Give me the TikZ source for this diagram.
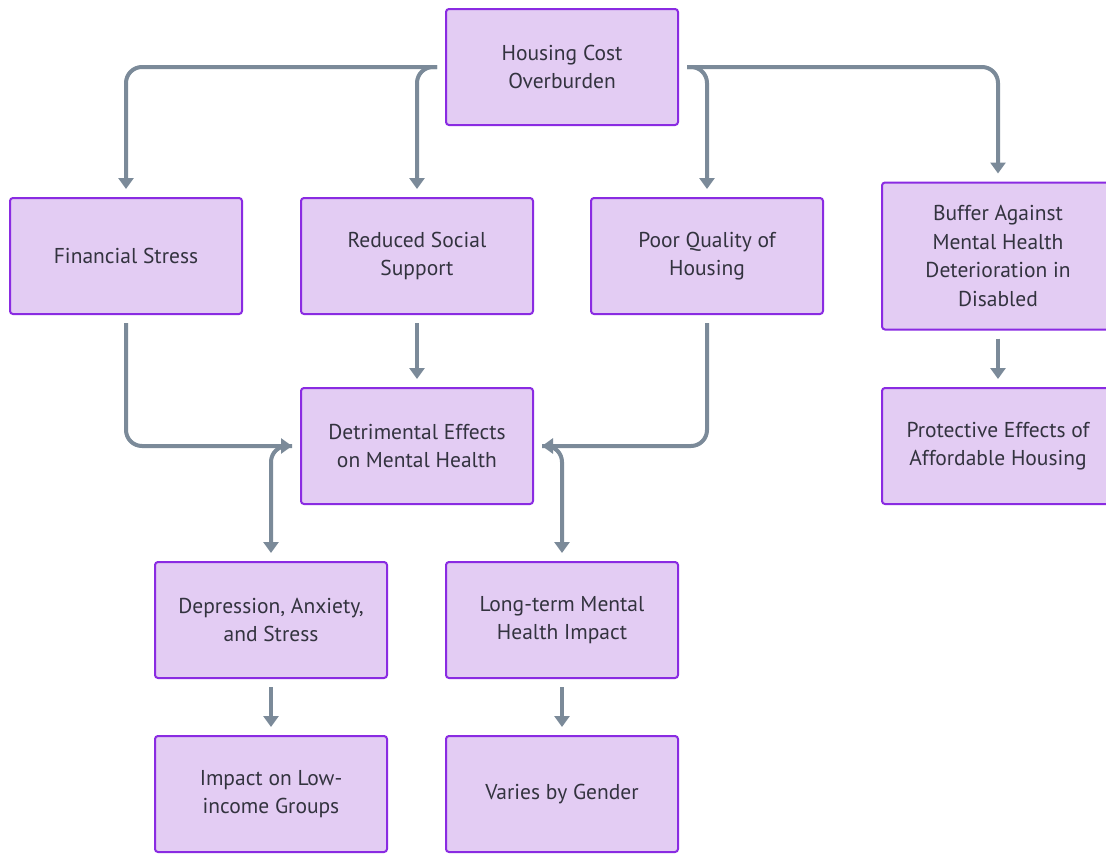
\documentclass[tikz,border=0pt]{standalone}
\usepackage{fontspec}
\setmainfont{PT Sans}
\usetikzlibrary{arrows.meta,positioning}
\definecolor{boxfill}{HTML}{E3CCF3}
\definecolor{boxdraw}{HTML}{8A2BE2}
\definecolor{linec}{HTML}{7B8A99}
\definecolor{txt}{HTML}{33333F}
\tikzset{
  box/.style={draw=boxdraw, fill=boxfill, line width=2pt, rounded corners=3pt,
    minimum width=232pt, minimum height=116pt, align=center, text=txt,
    font=\fontsize{21.5}{28.5}\selectfont, inner sep=0pt},
  conn/.style={draw=linec, line width=4pt, rounded corners=16pt,
    -{Triangle[length=11pt,width=15pt]}},
}
\begin{document}
\begin{tikzpicture}[x=1pt,y=-1pt]
\clip (0,0) rectangle (1106,854);
\fill[white] (0,0) rectangle (1106,854);
\node[box] (hc) at (562,67) {Housing Cost\\Overburden};
\node[box] (fs) at (126,256) {Financial Stress};
\node[box] (rs) at (417,256) {Reduced Social\\Support};
\node[box] (pq) at (707,256) {Poor Quality of\\Housing};
\node[box, minimum height=147pt] (bf) at (998,256) {Buffer Against\\Mental Health\\Deterioration in\\Disabled};
\node[box] (de) at (417,446) {Detrimental Effects\\on Mental Health};
\node[box] (pe) at (998,446) {Protective Effects of\\Affordable Housing};
\node[box] (da) at (271,620) {Depression, Anxiety,\\and Stress};
\node[box] (lt) at (562,620) {Long-term Mental\\Health Impact};
\node[box] (il) at (271,794) {Impact on Low-\\income Groups};
\node[box] (vg) at (562,794) {Varies by Gender};

\coordinate (hcw) at ([xshift=-8pt]hc.west);
\coordinate (hce) at ([xshift=8pt]hc.east);
\coordinate (dew) at ([xshift=-8pt]de.west);
\coordinate (dee) at ([xshift=8pt]de.east);

\draw[conn] (hcw) -| ([yshift=8pt]fs.north);
\draw[conn] (hcw) -| ([yshift=8pt]rs.north);
\draw[conn] (hce) -| ([yshift=8pt]pq.north);
\draw[conn] (hce) -| ([yshift=8pt]bf.north);

\draw[conn] ([yshift=-8pt]fs.south) |- (dew);
\draw[conn] ([yshift=-8pt]rs.south) -- ([yshift=8pt]de.north);
\draw[conn] ([yshift=-8pt]pq.south) |- (dee);
\draw[conn] ([yshift=-8pt]bf.south) -- ([yshift=8pt]pe.north);

\draw[conn] (dew) -| ([yshift=8pt]da.north);
\draw[conn] (dee) -| ([yshift=8pt]lt.north);

\draw[conn] ([yshift=-8pt]da.south) -- ([yshift=8pt]il.north);
\draw[conn] ([yshift=-8pt]lt.south) -- ([yshift=8pt]vg.north);
\end{tikzpicture}
\end{document}
